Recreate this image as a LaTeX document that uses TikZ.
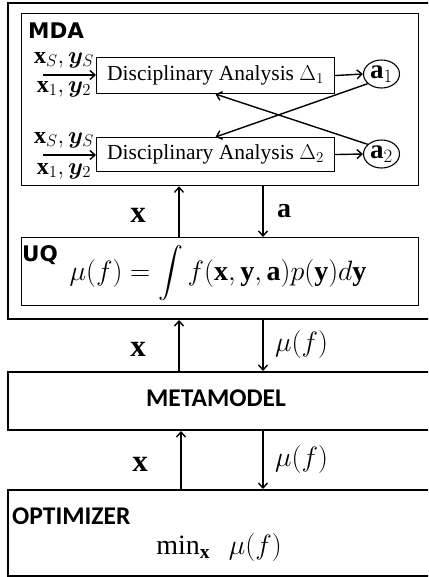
\RequirePackage{fix-cm}
\documentclass[tikz,border=0pt]{standalone}
\usepackage{amsmath}
\usepackage{bm}
\usepackage{fontspec}
\setmainfont{Liberation Serif}
\newfontfamily\lblfont{DejaVu Sans}
\newfontfamily\carlfont{Carlito}
\usetikzlibrary{arrows.meta,shapes.geometric}
\begin{document}
\begin{tikzpicture}[x=1pt,y=-1pt,
  thinbox/.style={draw, line width=1.1pt, rectangle, inner sep=0pt, anchor=north west},
  midbox/.style={draw, line width=1.3pt, rectangle, inner sep=0pt, anchor=north west},
  thickbox/.style={draw, line width=2pt, rectangle, inner sep=0pt, anchor=north west},
  arr/.style={-{Straight Barb[length=5pt,width=9pt,line width=1.4pt]}, line width=1.4pt},
  circ/.style={draw, ellipse, line width=1.1pt, inner sep=0pt, minimum width=36pt, minimum height=28pt, font=\fontsize{27}{29}\selectfont},
  dalbl/.style={inner sep=0pt, font=\fontsize{21.5}{24}\selectfont},
  inlbl/.style={inner sep=0pt, font=\fontsize{24}{26}\selectfont},
  mlbl/.style={inner sep=0pt, font=\fontsize{28}{30}\selectfont},
  xlbl/.style={inner sep=0pt, font=\fontsize{31}{33}\selectfont},
  headA/.style={inner sep=0pt, font=\fontsize{21.5}{23}\selectfont\lblfont\bfseries},
  headB/.style={inner sep=0pt, font=\fontsize{25.5}{28}\selectfont\carlfont\bfseries}]
\clip (0,0) rectangle (428,577);
% boxes
\node[thickbox, minimum width=440pt, minimum height=316pt] (outer) at (7,2) {};
\node[midbox, minimum width=397pt, minimum height=172pt] (mda) at (21,13) {};
\node[thinbox, minimum width=238pt, minimum height=36pt] (da1) at (96,57) {};
\node[thinbox, minimum width=238pt, minimum height=34pt] (da2) at (96,137) {};
\node[dalbl] (da1t) at (da1.center) {Disciplinary Analysis $\Delta_1$};
\node[dalbl] (da2t) at (da2.center) {Disciplinary Analysis $\Delta_2$};
\node[circ] (a1) at (381.5,74) {$\mathbf{a}_1$};
\node[circ] (a2) at (381.5,154) {$\mathbf{a}_2$};
\node[midbox, minimum width=397pt, minimum height=68pt] (uq) at (21,237) {};
\node[thickbox, minimum width=440pt, minimum height=58pt] (meta) at (7,371) {};
\node[thickbox, minimum width=440pt, minimum height=86pt] (opt) at (7,489) {};
% headings
\node[headA, anchor=west] (mdal) at (28,30.5) {MDA};
\node[headA, anchor=north west] (uql) at (22,245) {UQ};
\node[headB] (metal) at (216,398) {METAMODEL};
\node[headB, anchor=west] (optl) at (12,516.5) {OPTIMIZER};
% formulas
\node[mlbl] (uqf) at (218,273) {$\mu(f)=\displaystyle\int f(\mathbf{x},\mathbf{y},\mathbf{a})p(\mathbf{y})d\mathbf{y}$};
\node[mlbl] (optf) at (219,547) {$\min_{\mathbf{x}}\ \ \mu(f)$};
% inputs
\coordinate (in1) at (43,75);
\coordinate (in2) at (43,155);
\draw[arr] (in1) -- (in1 -| da1.west);
\draw[arr] (in2) -- (in2 -| da2.west);
\node[inlbl] (l1a) at (64,60) {$\mathbf{x}_S,\bm{y}_S$};
\node[inlbl] (l1b) at (64,89) {$\mathbf{x}_1,\bm{y}_2$};
\node[inlbl] (l2a) at (64,140) {$\mathbf{x}_S,\bm{y}_S$};
\node[inlbl] (l2b) at (64,171) {$\mathbf{x}_1,\bm{y}_2$};
% MDA internal
\draw[arr] (da1.east) -- (a1.west);
\draw[arr] (da2.east) -- (a2.west);
\draw[arr] (a1.215) -- (da2.north);
\draw[arr] (a2.145) -- (da1.south);
% vertical connectors
\draw[arr] (179,0 |- uq.north) -- (179,0 |- mda.south);
\draw[arr] (263,0 |- mda.south) -- (263,0 |- uq.north);
\draw[arr] (179,0 |- meta.north) -- (179,0 |- outer.south);
\draw[arr] (263,0 |- outer.south) -- (263,0 |- meta.north);
\draw[arr] (181,0 |- opt.north) -- (181,0 |- meta.south);
\draw[arr] (263,0 |- meta.south) -- (263,0 |- opt.north);
% connector labels
\node[xlbl] (lx1) at (138,215) {$\mathbf{x}$};
\node[mlbl, anchor=west] (la) at (277,211) {$\mathbf{a}$};
\node[xlbl] (lx2) at (138,349) {$\mathbf{x}$};
\node[mlbl, anchor=west] (lm1) at (275,344) {$\mu(f)$};
\node[xlbl] (lx3) at (140,464) {$\mathbf{x}$};
\node[mlbl, anchor=west] (lm2) at (275,459) {$\mu(f)$};
\end{tikzpicture}
\end{document}
